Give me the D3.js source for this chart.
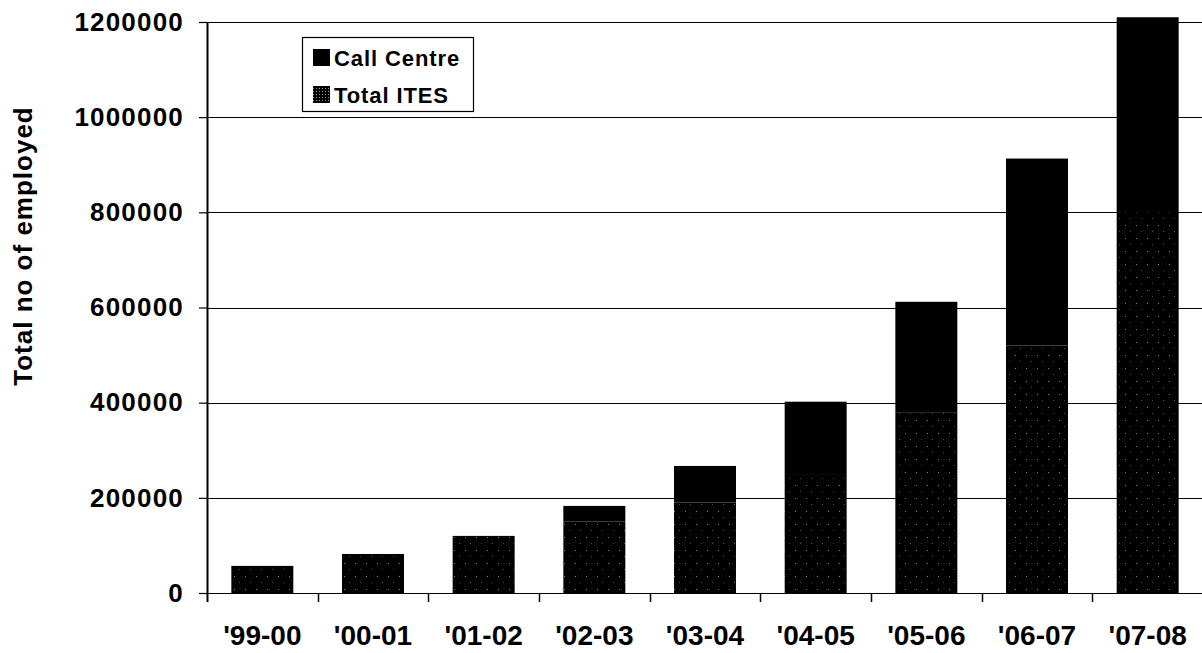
<!DOCTYPE html>
<html>
<head>
<meta charset="utf-8">
<script src="https://cdn.jsdelivr.net/npm/d3@7"></script>
<style>
  html, body { margin: 0; padding: 0; background: #fff; }
  svg { display: block; font-family: "Liberation Sans", Arial, sans-serif; font-weight: bold; }
</style>
</head>
<body>
<svg id="chart" width="1202" height="653"></svg>
<script>
// Employment by year: the Total ITES segment sits at the bottom of each column,
// the Call Centre segment is stacked on top of it.
const categories = ["'99-00", "'00-01", "'01-02", "'02-03", "'03-04", "'04-05", "'05-06", "'06-07", "'07-08"];
const totalITES  = [57000, 82000, 120000, 150000, 190000, 250000, 380000, 520000, 800000];
const callCentre = [0, 0, 0, 33000, 77000, 152000, 232000, 393000, 410000];
const yTicks = [0, 200000, 400000, 600000, 800000, 1000000, 1200000];
const seriesNames = ["Call Centre", "Total ITES"];

const svg = d3.select("#chart");
const plotLeft = 207, plotRight = 1203, plotTop = 22, plotBottom = 593;

const rows = categories.map((c, i) => ({ cat: c, ites: totalITES[i], call: callCentre[i] }));
const stacked = d3.stack().keys(["ites", "call"])(rows);

const x = d3.scaleBand().domain(categories).range([plotLeft, plotRight])
  .paddingInner(0.44).paddingOuter(0.22);
const y = d3.scaleLinear().domain([0, 1200000]).range([plotBottom, plotTop]);

// speckled near-black fill for the Total ITES series
const defs = svg.append("defs");
const pat = defs.append("pattern").attr("id", "ites").attr("patternUnits", "userSpaceOnUse")
  .attr("width", 11).attr("height", 13);
pat.append("rect").attr("width", 11).attr("height", 13).attr("fill", "#000");
pat.append("rect").attr("x", 3).attr("y", 4).attr("width", 1).attr("height", 1).attr("fill", "#fff").attr("opacity", 0.5);
pat.append("rect").attr("x", 8).attr("y", 10).attr("width", 1).attr("height", 1).attr("fill", "#fff").attr("opacity", 0.3);

// denser speckle for the small legend key
const patKey = defs.append("pattern").attr("id", "itesKey").attr("patternUnits", "userSpaceOnUse")
  .attr("width", 3).attr("height", 3);
patKey.append("rect").attr("width", 3).attr("height", 3).attr("fill", "#000");
patKey.append("rect").attr("x", 1).attr("y", 1).attr("width", 1).attr("height", 1).attr("fill", "#fff").attr("opacity", 0.6);

const fills = { ites: "url(#ites)", call: "#000" };

// horizontal gridlines
svg.append("g").selectAll("line").data(yTicks.filter(d => d > 0)).join("line")
  .attr("x1", plotLeft).attr("x2", 1202)
  .attr("y1", d => Math.round(y(d)) + 0.5).attr("y2", d => Math.round(y(d)) + 0.5)
  .attr("stroke", "#000").attr("stroke-width", 1.2);

// columns
svg.append("g").selectAll("g").data(stacked).join("g")
  .attr("fill", d => fills[d.key])
  .selectAll("rect").data(d => d).join("rect")
  .attr("x", d => x(d.data.cat))
  .attr("width", x.bandwidth())
  .attr("y", d => y(d[1]))
  .attr("height", d => Math.max(0, y(d[0]) - y(d[1])));

// category axis: baseline, boundary ticks and labels
svg.append("line").attr("x1", plotLeft).attr("x2", 1202).attr("y1", plotBottom + 0.5).attr("y2", plotBottom + 0.5)
  .attr("stroke", "#000").attr("stroke-width", 1.2);
const boundaries = categories.map(c => x(c) - x.step() * x.paddingOuter()).slice(1);
svg.append("g").selectAll("line").data(boundaries).join("line")
  .attr("x1", d => Math.round(d) + 0.5).attr("x2", d => Math.round(d) + 0.5)
  .attr("y1", plotBottom).attr("y2", plotBottom + 9)
  .attr("stroke", "#000").attr("stroke-width", 1.5);

const xAxis = svg.append("g").attr("transform", `translate(0,${plotBottom})`)
  .call(d3.axisBottom(x).tickSize(0).tickPadding(32));
xAxis.select(".domain").remove();
xAxis.selectAll("text").attr("font-size", 28).attr("font-weight", "bold")
  .attr("font-family", "'Liberation Sans', Arial, sans-serif").attr("fill", "#000");

// value axis
const yAxis = svg.append("g").attr("transform", `translate(${plotLeft},0)`)
  .call(d3.axisLeft(y).tickValues(yTicks).tickSize(8).tickPadding(15).tickFormat(d3.format("d")));
yAxis.select(".domain").remove();
yAxis.selectAll(".tick line").attr("stroke", "#000").attr("stroke-width", 1.2);
yAxis.selectAll("text").attr("font-size", 26).attr("font-weight", "bold")
  .attr("font-family", "'Liberation Sans', Arial, sans-serif").attr("fill", "#000")
  .attr("letter-spacing", "1.2px");
svg.append("line").attr("x1", plotLeft + 0.5).attr("x2", plotLeft + 0.5).attr("y1", plotTop).attr("y2", plotBottom + 9)
  .attr("stroke", "#000").attr("stroke-width", 2);

// axis title
svg.append("text")
  .attr("transform", "translate(32,246) rotate(-90)")
  .attr("text-anchor", "middle")
  .attr("font-size", 26).attr("letter-spacing", "1px").attr("fill", "#000")
  .text("Total no of employed");

// legend
const lg = svg.append("g");
lg.append("rect").attr("x", 302.5).attr("y", 37.5).attr("width", 171).attr("height", 74)
  .attr("fill", "#fff").attr("stroke", "#000").attr("stroke-width", 1.2);
const legendFill = ["#000", "url(#itesKey)"];
seriesNames.forEach((name, i) => {
  lg.append("rect").attr("x", 313).attr("y", 49 + i * 37).attr("width", 17).attr("height", 17)
    .attr("fill", legendFill[i]);
  lg.append("text").attr("x", 334).attr("y", 66 + i * 37)
    .attr("font-size", 22).attr("letter-spacing", "0.9px").attr("fill", "#000")
    .text(name);
});
</script>
</body>
</html>
